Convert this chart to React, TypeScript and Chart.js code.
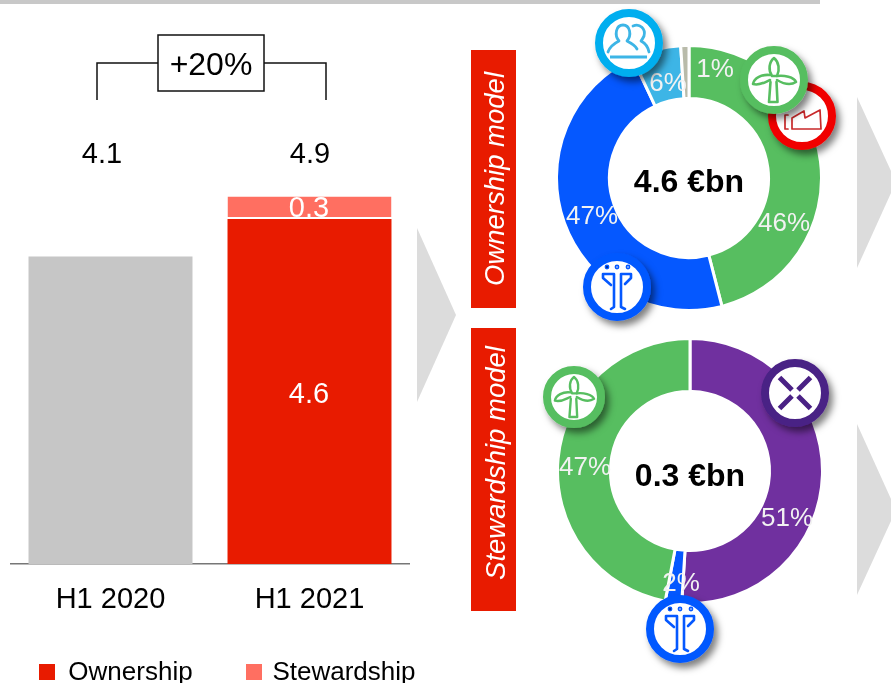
import React, { useEffect, useRef } from "react";
import { Chart, registerables } from "chart.js";

Chart.register(...registerables);

const FONT = '"Liberation Sans", Arial, sans-serif';

// Half-year revenue split by business model
const periods = ["H1 2020", "H1 2021"];
const ownershipValues = [4.1, 4.6];
const stewardshipValues = [null, 0.3];
const periodTotals = ["4.1", "4.9"];
const growthLabel = "+20%";
const legendNames = ["Ownership", "Stewardship"];

// Ring shares, clockwise from twelve o'clock
const ownershipShares = [46, 47, 6, 1];
const ownershipColors = ["#57BE60", "#0558FF", "#3DB5E6", "#B9BBAA"];
const ownershipTotal = "4.6 €bn";
const stewardshipShares = [51, 2, 47];
const stewardshipColors = ["#70309F", "#0558FF", "#57BE60"];
const stewardshipTotal = "0.3 €bn";

const RED = "#E81B00";
const SALMON = "#FF6F61";
const GREY_BAR = "#C6C6C6";
const ARROW = "#DCDCDC";

function BarPanel() {
  const ref = useRef<HTMLCanvasElement>(null);
  useEffect(() => {
    const chart = new Chart(ref.current!, {
      type: "bar",
      data: {
        labels: periods,
        datasets: [
          {
            label: legendNames[0],
            data: ownershipValues,
            backgroundColor: [GREY_BAR, RED],
            barPercentage: 0.824,
            categoryPercentage: 1,
          },
          {
            label: legendNames[1],
            data: stewardshipValues,
            backgroundColor: SALMON,
            borderColor: "#ffffff",
            borderWidth: { bottom: 2, top: 0, left: 0, right: 0 },
            borderSkipped: false,
            barPercentage: 0.824,
            categoryPercentage: 1,
          },
        ],
      },
      options: {
        animation: false,
        responsive: false,
        layout: { padding: { left: 11, right: 11, top: 189, bottom: 0 } },
        plugins: { legend: { display: false }, tooltip: { enabled: false } },
        scales: {
          x: {
            stacked: true,
            grid: { display: false, drawTicks: false },
            border: { color: "#777777", width: 1.5 },
            ticks: { color: "#000", font: { family: FONT, size: 29 }, padding: 19, maxRotation: 0 },
            afterFit: (scale: any) => {
              scale.height = 56;
            },
          },
          y: { stacked: true, display: false, min: 0, max: 5 },
        },
      },
    });
    return () => chart.destroy();
  }, []);
  return <canvas ref={ref} width={420} height={620} style={{ position: "absolute", left: 0, top: 0 }} />;
}

function Ring({ values, colors, left, top }: { values: number[]; colors: string[]; left: number; top: number }) {
  const ref = useRef<HTMLCanvasElement>(null);
  useEffect(() => {
    const chart = new Chart(ref.current!, {
      type: "doughnut",
      data: {
        datasets: [{ data: values, backgroundColor: colors, borderColor: "#ffffff", borderWidth: 3 }],
      },
      options: {
        animation: false,
        responsive: false,
        radius: 132.5,
        cutout: "60%",
        plugins: { legend: { display: false }, tooltip: { enabled: false } },
      },
    });
    return () => chart.destroy();
  }, []);
  return <canvas ref={ref} width={270} height={270} style={{ position: "absolute", left, top }} />;
}

function Label(props: { x: number; y: number; size?: number; fill?: string; bold?: boolean; children: React.ReactNode }) {
  const { x, y, size = 29, fill = "#000", bold, children } = props;
  return (
    <text x={x} y={y} fontSize={size} fill={fill} fontWeight={bold ? 700 : 400} textAnchor="middle" dominantBaseline="central" fontFamily={FONT}>
      {children}
    </text>
  );
}

function Badge(props: { x: number; y: number; r?: number; ring: string; children: React.ReactNode }) {
  const { x, y, r = 34, ring, children } = props;
  return (
    <g transform={`translate(${x} ${y})`}>
      <circle r={r - 4} fill="#fff" stroke={ring} strokeWidth={8} filter="url(#badgeShadow)" />
      <g transform={`scale(${r / 34})`} fill="none" stroke={ring} strokeWidth={2.6} strokeLinecap="round" strokeLinejoin="round">
        {children}
      </g>
    </g>
  );
}

const TurbineGlyph = () => (
  <>
    <path d="M-3.5 2 L-5 22 L3.5 22 L2.5 2" />
    <path d="M0 -22 C5 -18 6 -10 3 -4 L-2 -4 C-6 -10 -5 -18 0 -22 Z" />
    <path d="M-4 -5 C-12 -6 -20 -2 -21 4 C-14 6 -9 2 -4 0" />
    <path d="M3 -4 C10 -5 20 -3 22 2 C16 6 8 3 3 0" />
  </>
);

const FigureGlyph = () => (
  <>
    <circle cx={-10} cy={-20} r={1.6} fill="currentColor" strokeWidth={1.6} />
    <circle cx={0} cy={-20} r={1.6} strokeWidth={1.6} />
    <circle cx={11} cy={-20} r={1.6} strokeWidth={1.6} />
    <path d="M-3 20 L-3 -13 L-14 -13 L-14 -9 L-6 -2 M-3 20 L-6 22" />
    <path d="M4 20 L4 -13 L14 -13 L14 -9 L8 -3 M4 20 L8 22" />
  </>
);

const PeopleGlyph = () => (
  <>
    <path d="M-21 9 C-19 3 -14 0 -10 -2 C-15 -8 -13 -18 -6 -18 C1 -18 3 -8 -2 -2 C2 0 6 2 8 6" strokeWidth={2.8} />
    <path d="M4 -17 C11 -20 17 -14 15 -7 C14 -5 13 -3 12 -2 C16 0 19 4 20 9" strokeWidth={2.8} />
    <path d="M-19 14 L18 14" strokeWidth={3} strokeLinecap="butt" />
  </>
);

const FactoryGlyph = () => (
  <>
    <path d="M-17 -1 L-14 -1 M-17 -1 L-17 13 L-14 13" strokeWidth={1.7} />
    <path d="M-10 2 L2 -5 L3 2 L18 -6 L19 13 L-10 13 L-10 2" strokeWidth={1.7} />
  </>
);

const CrossGlyph = () => (
  <path d="M-15.5 -15.5 L-3 -3 M15.5 -15.5 L3 -3 M-15.5 15.5 L-3 3 M15.5 15.5 L3 3" strokeWidth={5} strokeLinecap="butt" />
);

export default function App() {
  return (
    <div style={{ position: "absolute", left: 0, top: 0, width: 891, height: 683, overflow: "hidden", background: "#fff" }}>
      <BarPanel />
      <Ring values={ownershipShares} colors={ownershipColors} left={554} top={43} />
      <Ring values={stewardshipShares} colors={stewardshipColors} left={555} top={336} />
      <svg width={891} height={683} style={{ position: "absolute", left: 0, top: 0 }}>
        <defs>
          <filter id="badgeShadow" x="-30%" y="-30%" width="170%" height="170%">
            <feDropShadow dx={4} dy={5} stdDeviation={3.5} floodColor="#000" floodOpacity={0.5} />
          </filter>
        </defs>

        <rect x={0} y={0} width={820} height={4} fill="#C8C8C8" />

        {/* growth bracket over the two bars */}
        <path d="M97 100 V63 H158 M264 63 H326 V100" fill="none" stroke="#111" strokeWidth={1.5} />
        <rect x={158} y={35} width={106} height={56} fill="#fff" stroke="#111" strokeWidth={1.5} />
        <Label x={211} y={64} size={32}>{growthLabel}</Label>

        <Label x={102} y={153}>{periodTotals[0]}</Label>
        <Label x={310} y={153}>{periodTotals[1]}</Label>
        <Label x={309} y={207} fill="#fff">{stewardshipValues[1]?.toFixed(1)}</Label>
        <Label x={309} y={393} fill="#fff">{ownershipValues[1].toFixed(1)}</Label>

        {/* legend */}
        <rect x={39} y={664} width={16} height={16} fill={RED} />
        <Label x={130.5} y={671} size={26}>{legendNames[0]}</Label>
        <rect x={246} y={664} width={16} height={16} fill={SALMON} />
        <Label x={344} y={671} size={26}>{legendNames[1]}</Label>

        {/* connecting arrows */}
        <polygon points="417,228 456,315 417,402" fill={ARROW} />
        <polygon points="857,97 896,182 857,268" fill={ARROW} />
        <polygon points="857,424 896,510 857,595" fill={ARROW} />

        {/* model banners */}
        <rect x={471} y={50} width={45} height={258} fill={RED} />
        <rect x={471} y={328} width={45} height={283} fill={RED} />
        <text transform="translate(494 179) rotate(-90)" fontSize={27.5} fontStyle="italic" fill="#fff" textAnchor="middle" dominantBaseline="central" fontFamily={FONT}>Ownership model</text>
        <text transform="translate(495 463) rotate(-90)" fontSize={27.5} fontStyle="italic" fill="#fff" textAnchor="middle" dominantBaseline="central" fontFamily={FONT}>Stewardship model</text>

        {/* ring captions */}
        <Label x={689} y={181} size={32} bold>{ownershipTotal}</Label>
        <Label x={784} y={222} size={26} fill="#F2F2F2">{ownershipShares[0]}%</Label>
        <Label x={592} y={215} size={26} fill="#F2F2F2">{ownershipShares[1]}%</Label>
        <Label x={668} y={82} size={26} fill="#F2F2F2">{ownershipShares[2]}%</Label>
        <Label x={715} y={68} size={26} fill="#F2F2F2">{ownershipShares[3]}%</Label>

        <Label x={690} y={475} size={32} bold>{stewardshipTotal}</Label>
        <Label x={787} y={517} size={26} fill="#F2F2F2">{stewardshipShares[0]}%</Label>
        <Label x={681} y={582} size={26} fill="#F2F2F2">{stewardshipShares[1]}%</Label>
        <Label x={585} y={466} size={26} fill="#F2F2F2">{stewardshipShares[2]}%</Label>

        {/* category badges */}
        <Badge x={629} y={43} ring="#00AEEF"><g stroke="#3DB5E6"><PeopleGlyph /></g></Badge>
        <Badge x={802} y={116} ring="#F00000"><g stroke="#C8282A"><FactoryGlyph /></g></Badge>
        <Badge x={774} y={80} ring="#57BE60"><TurbineGlyph /></Badge>
        <Badge x={617} y={287} ring="#0558FF"><FigureGlyph /></Badge>
        <Badge x={574} y={397} r={31} ring="#57BE60"><TurbineGlyph /></Badge>
        <Badge x={795} y={393} ring="#4A2185"><CrossGlyph /></Badge>
        <Badge x={680} y={629} ring="#0558FF"><FigureGlyph /></Badge>
      </svg>
    </div>
  );
}
